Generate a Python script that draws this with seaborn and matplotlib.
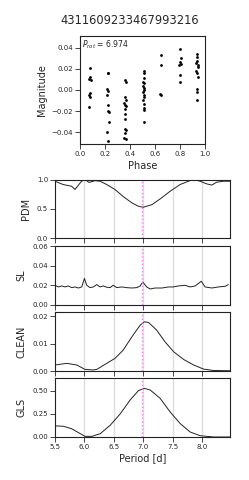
import matplotlib
matplotlib.use('Agg')
import matplotlib.pyplot as plt
import seaborn as sns
import pandas as pd

# Datos
titulo = "4311609233467993216"
p_rot = 6.974

fase = [0.078, 0.083, 0.076, 0.088, 0.081, 0.074, 0.079, 0.072,
        0.222, 0.227, 0.219, 0.221, 0.217, 0.225, 0.227, 0.231, 0.229, 0.219, 0.222,
        0.360, 0.365, 0.362, 0.370, 0.355, 0.358, 0.366, 0.360, 0.364, 0.362, 0.357, 0.365, 0.360, 0.356, 0.368,
        0.510, 0.515, 0.512, 0.505, 0.513, 0.508, 0.516, 0.510, 0.506, 0.512, 0.510, 0.507, 0.514, 0.511, 0.513, 0.509,
        0.645, 0.648, 0.643, 0.645,
        0.797, 0.805, 0.800, 0.808, 0.795, 0.800, 0.797,
        0.935, 0.938, 0.940, 0.932, 0.945, 0.942, 0.930, 0.936, 0.945, 0.935, 0.940, 0.935]
magnitud = [0.021, 0.012, 0.010, 0.009, -0.003, -0.005, -0.007, -0.016,
            0.0165, 0.0156, 0.0006, -0.001, -0.005, -0.0146, -0.020, -0.021, -0.0305, -0.040, -0.0486,
            0.009, 0.0076, -0.0067, -0.0098, -0.012, -0.014, -0.0155, -0.018, -0.0225, -0.027, -0.037, -0.038, -0.041, -0.045, -0.046,
            0.018, 0.016, 0.0117, 0.0076, 0.0067, 0.0035, 0.002, 0.0003, -0.002, -0.0044, -0.0067, -0.009, -0.013, -0.017, -0.019, -0.0305,
            0.033, 0.0235, -0.0035, -0.005,
            0.039, 0.030, 0.0267, 0.025, 0.0235, 0.014, 0.008,
            0.0336, 0.031, 0.0276, 0.0257, 0.024, 0.022, 0.018, 0.0165, 0.0124, 0.0013, -0.002, -0.009]

pdm_periodo = [5.50, 5.64, 5.78, 5.84, 5.95, 6.01, 6.08, 6.18, 6.27, 6.38, 6.52, 6.66, 6.81,
               6.92, 7.00, 7.15, 7.29, 7.46, 7.63, 7.80, 7.86, 7.97, 8.08, 8.17, 8.25, 8.37, 8.48]
pdm_valor = [0.97, 0.914, 0.886, 0.83, 0.97, 1.0, 0.95, 0.98, 0.97, 0.914, 0.83, 0.71, 0.6,
             0.543, 0.526, 0.571, 0.669, 0.80, 0.914, 0.983, 1.0, 0.971, 0.926, 0.905, 0.954, 0.971, 0.971]

sl_periodo = [5.50, 5.556, 5.614, 5.67, 5.727, 5.784, 5.84, 5.897, 5.955, 6.00, 6.04, 6.096, 6.153,
              6.21, 6.267, 6.32, 6.38, 6.437, 6.49, 6.55, 6.636, 6.72, 6.807, 6.89, 6.95, 6.994,
              7.06, 7.12, 7.20, 7.32, 7.43, 7.515, 7.60, 7.715, 7.80, 7.885, 7.99, 8.055, 8.17,
              8.28, 8.40, 8.45]
sl_valor = [0.0200, 0.0183, 0.0193, 0.0183, 0.0193, 0.0176, 0.0183, 0.0172, 0.0183, 0.0270, 0.0200,
            0.0176, 0.0183, 0.0207, 0.0183, 0.0193, 0.0180, 0.0176, 0.0200, 0.0176, 0.0183, 0.0176,
            0.0172, 0.0176, 0.0193, 0.0234, 0.0183, 0.0162, 0.0172, 0.0172, 0.0183, 0.0183, 0.0193,
            0.0200, 0.0183, 0.0193, 0.0241, 0.0183, 0.0172, 0.0183, 0.0190, 0.0207]

clean_periodo = [5.50, 5.70, 5.87, 6.01, 6.15, 6.21, 6.38, 6.52, 6.66, 6.81, 6.95, 7.02, 7.09,
                 7.23, 7.37, 7.52, 7.69, 7.86, 8.03, 8.20, 8.48]
clean_valor = [0.0022, 0.0028, 0.0022, 0.0006, 0.0004, 0.0006, 0.0028, 0.0046, 0.0076, 0.0125,
               0.0167, 0.0179, 0.0177, 0.0149, 0.0107, 0.0070, 0.0042, 0.0022, 0.0007, 0.0002, 0.0001]

gls_periodo = [5.50, 5.64, 5.78, 5.93, 6.01, 6.13, 6.27, 6.44, 6.61, 6.78, 6.92, 7.02, 7.12,
               7.29, 7.46, 7.63, 7.80, 7.97, 8.20, 8.48]
gls_valor = [0.12, 0.116, 0.09, 0.036, 0.007, 0.007, 0.036, 0.127, 0.25, 0.40, 0.50, 0.525, 0.507,
             0.417, 0.27, 0.145, 0.054, 0.014, 0.0, 0.0]

sns.set_style('ticks')
plt.rcParams['font.family'] = ['DejaVu Sans']
plt.rcParams['mathtext.fontset'] = 'dejavusans'

fig = plt.figure(figsize=(2.49, 4.80), dpi=100)

# Panel de la curva de fase
ax0 = fig.add_axes([0.321, 0.70, 0.502, 0.225])
df_fase = pd.DataFrame({'fase': fase, 'mag': magnitud})
sns.scatterplot(x='fase', y='mag', data=df_fase, ax=ax0, color='black', s=4, linewidth=0)
ax0.set_xlim(0, 1)
ax0.set_ylim(-0.051, 0.051)
ax0.set_xticks([0.0, 0.2, 0.4, 0.6, 0.8, 1.0])
ax0.set_yticks([-0.04, -0.02, 0.00, 0.02, 0.04])
ax0.set_xlabel('Phase', fontsize=7, labelpad=3)
ax0.set_ylabel('Magnitude', fontsize=7, labelpad=3)
ax0.tick_params(labelsize=5, length=3.5, width=0.6, pad=1.5)
ax0.text(0.02, 0.975, r'$P_{rot}$ = %.3f' % p_rot, transform=ax0.transAxes,
         fontsize=5.5, va='top', ha='left')
fig.text(0.522, 1 - 20 / 480, titulo, fontsize=8.3, ha='center', va='center')

# Paneles de periodogramas
paneles = [
    ('PDM', pdm_periodo, pdm_valor, 0.504, (0, 1.0), [0.0, 0.5, 1.0], '%.1f'),
    ('SL', sl_periodo, sl_valor, 0.365, (0, 0.06), [0.00, 0.02, 0.04, 0.06], '%.2f'),
    ('CLEAN', clean_periodo, clean_valor, 0.227, (0, 0.0213), [0.00, 0.01, 0.02], '%.2f'),
    ('GLS', gls_periodo, gls_valor, 0.0896, (0, 0.632), [0.00, 0.25, 0.50], '%.2f'),
]

for i, (nombre, per, val, abajo, ylim, yticks, fmt) in enumerate(paneles):
    ax = fig.add_axes([0.221, abajo, 0.703, 0.122])
    for xv in [6.0, 6.5, 7.0, 7.5, 8.0]:
        ax.axvline(xv, color='#dddddd', lw=1.0, zorder=0)
    sns.lineplot(x=per, y=val, ax=ax, color='#222222', lw=0.7)
    ax.axvline(p_rot, color='violet', lw=1.0, ls=':', zorder=3)
    ax.set_xlim(5.5, 8.48)
    ax.set_ylim(*ylim)
    ax.set_yticks(yticks)
    ax.set_yticklabels([fmt % t for t in yticks])
    ax.set_xticks([5.5, 6.0, 6.5, 7.0, 7.5, 8.0])
    ax.set_ylabel(nombre, fontsize=7, labelpad=4)
    ax.tick_params(labelsize=5, length=3.5, width=0.6, pad=1.5)
    if i < len(paneles) - 1:
        ax.set_xticklabels([])
    else:
        ax.set_xticklabels(['5.5', '6.0', '6.5', '7.0', '7.5', '8.0'])
        ax.set_xlabel('Period [d]', fontsize=7, labelpad=2)

for a in fig.axes:
    for s in a.spines.values():
        s.set_linewidth(0.8)
        s.set_color('#222222')

plt.savefig('out.png', dpi=100)
